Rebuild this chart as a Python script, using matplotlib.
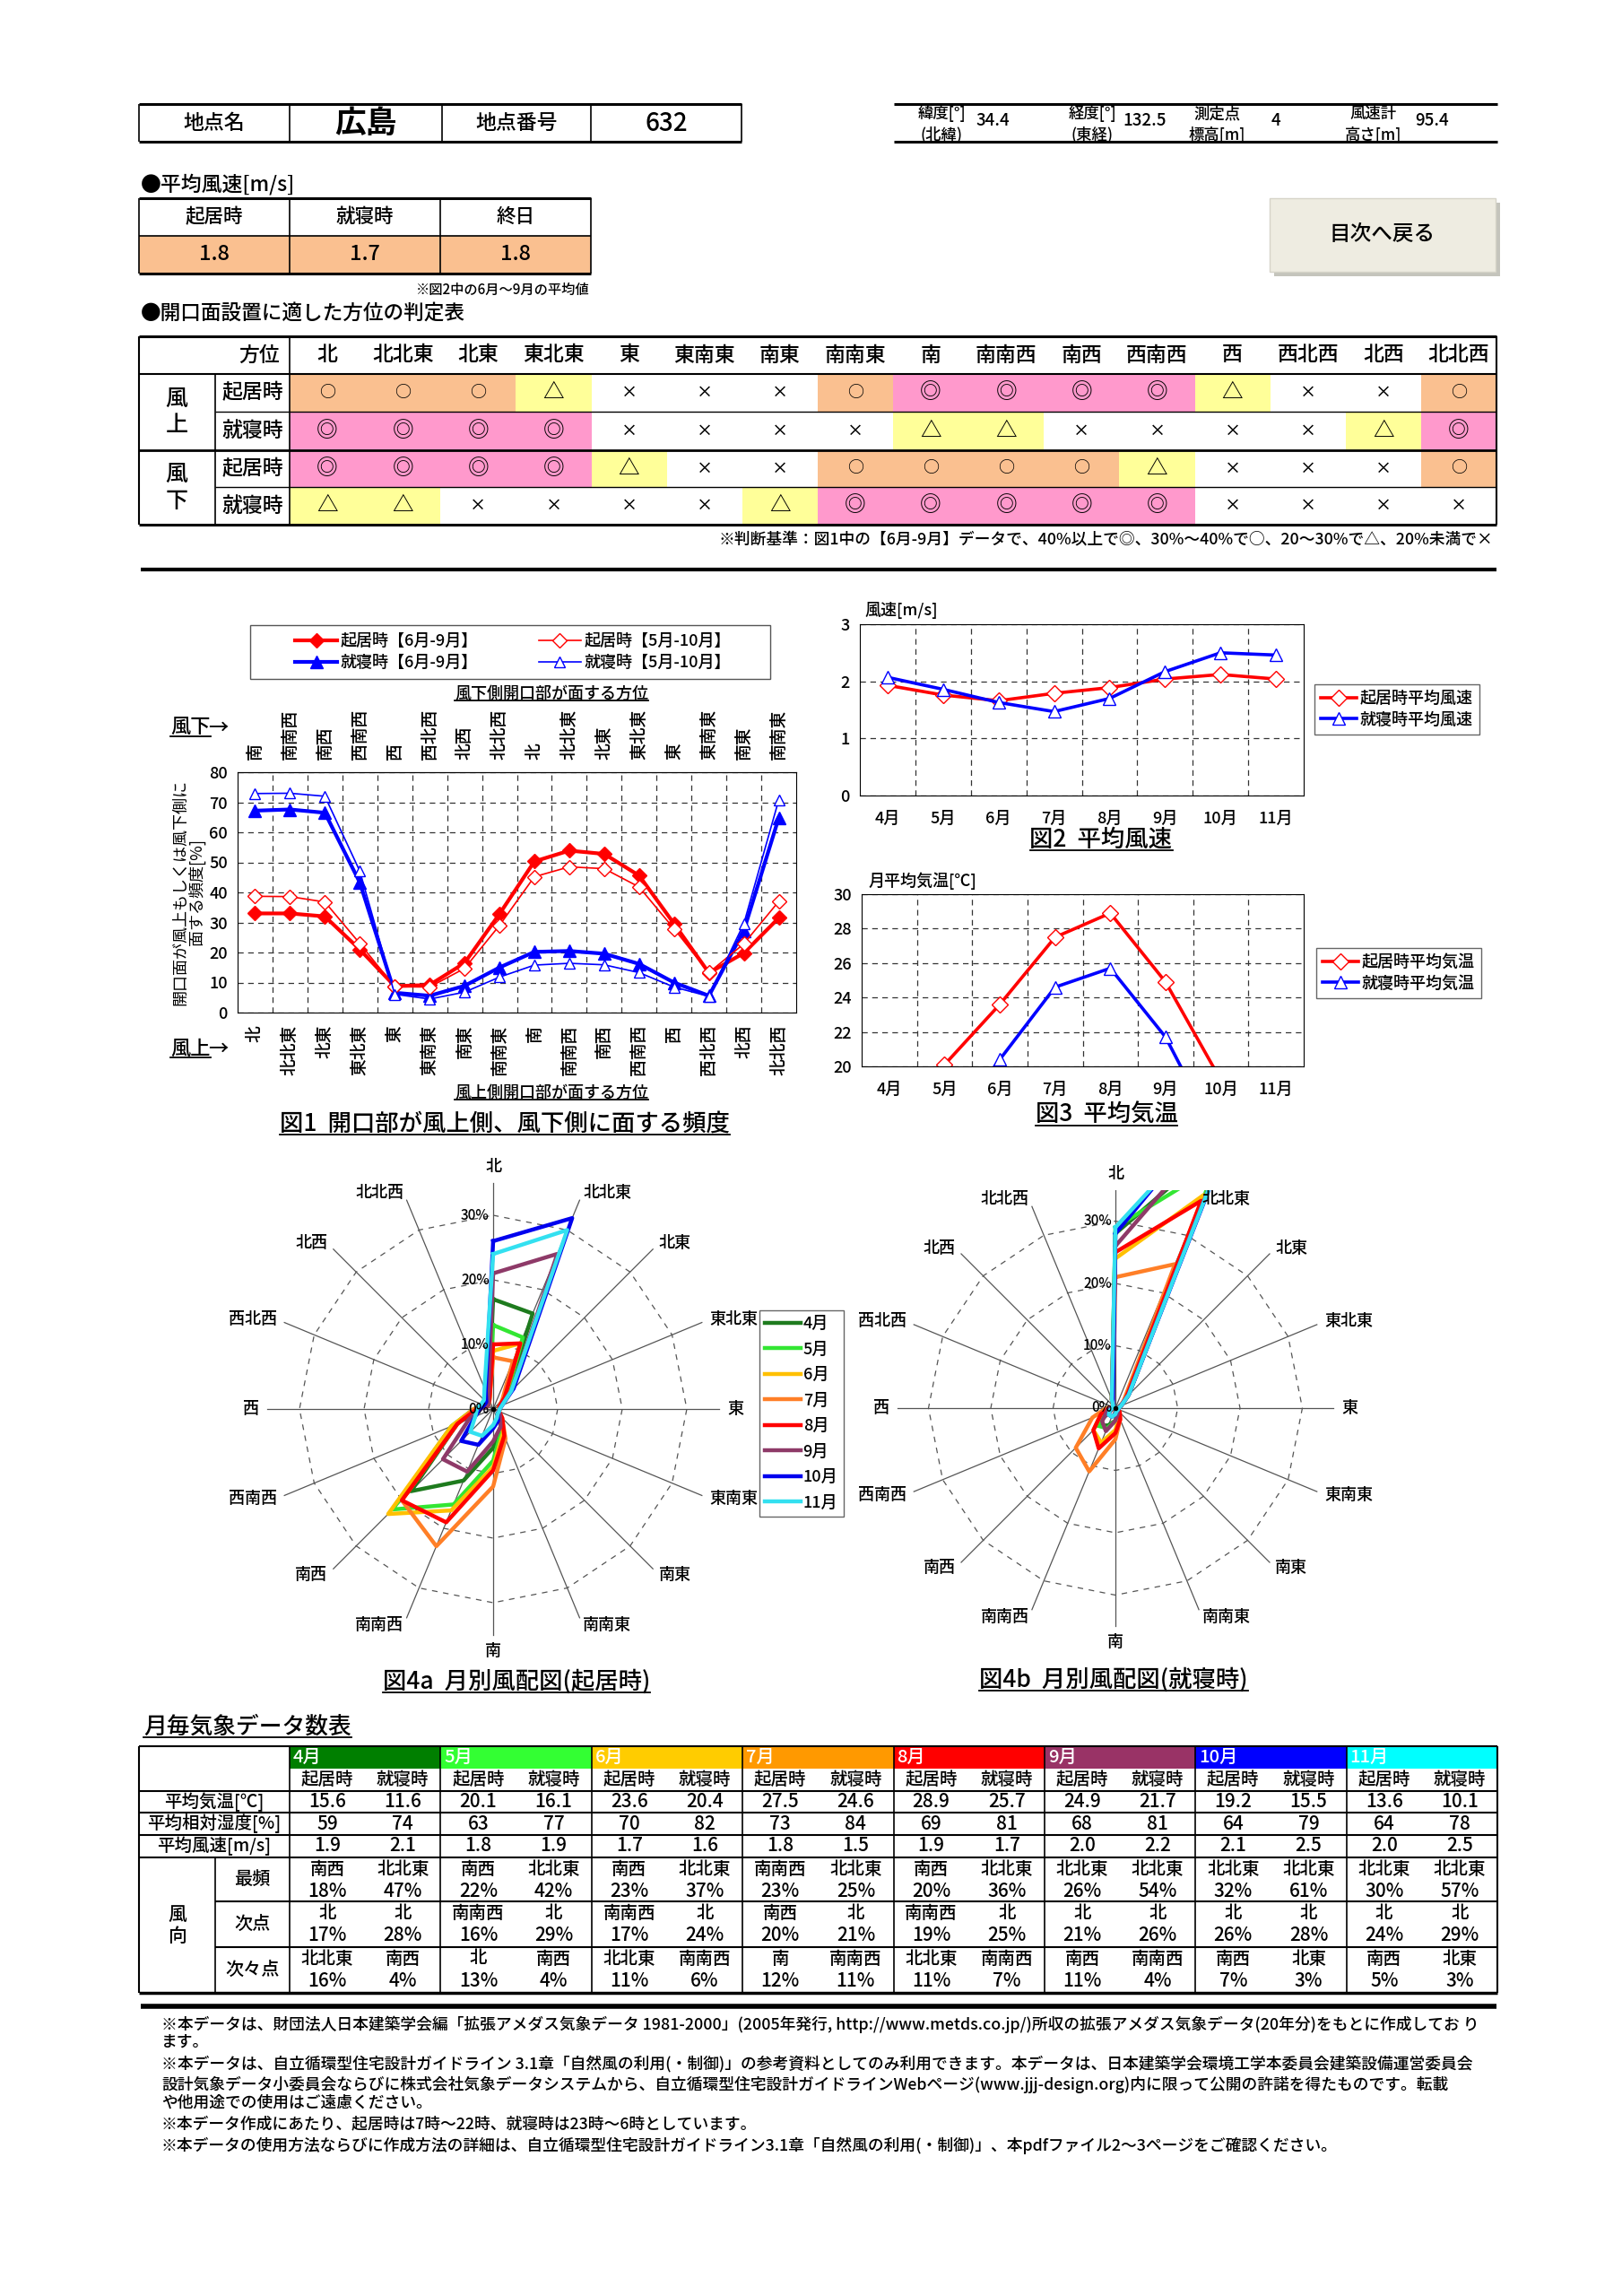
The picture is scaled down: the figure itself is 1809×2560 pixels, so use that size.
import numpy as np
import matplotlib
matplotlib.use("Agg")
import matplotlib.pyplot as plt
from matplotlib.patches import Rectangle
from matplotlib.lines import Line2D

W, H = 1809, 2560
plt.rcParams['font.family'] = ['Noto Sans CJK JP', 'DejaVu Sans']
plt.rcParams['font.weight'] = 'medium'

# ---------------- data ----------------
station_name = "広島"
station_no = "632"
info_top = ["緯度[°]", "経度[°]", "測定点", "風速計"]
info_bottom = ["(北緯)", "(東経)", "標高[m]", "高さ[m]"]
info_values = ["34.4", "132.5", "4", "95.4"]

mean_wind_labels = ["起居時", "就寝時", "終日"]
mean_wind_values = ["1.8", "1.7", "1.8"]

directions = ["北", "北北東", "北東", "東北東", "東", "東南東", "南東", "南南東",
              "南", "南南西", "南西", "西南西", "西", "西北西", "北西", "北北西"]
downwind_labels = directions[8:] + directions[:8]

judge_up_day = ["○", "○", "○", "△", "×", "×", "×", "○", "◎", "◎", "◎", "◎", "△", "×", "×", "○"]
judge_up_night = ["◎", "◎", "◎", "◎", "×", "×", "×", "×", "△", "△", "×", "×", "×", "×", "△", "◎"]
judge_down_day = ["◎", "◎", "◎", "◎", "△", "×", "×", "○", "○", "○", "○", "△", "×", "×", "×", "○"]
judge_down_night = ["△", "△", "×", "×", "×", "×", "△", "◎", "◎", "◎", "◎", "◎", "×", "×", "×", "×"]

# fig 1 : frequency [%] by upwind direction
day_jun_sep = [33.0, 33.0, 32.0, 21.0, 8.8, 9.2, 16.5, 32.8, 50.3, 53.9, 52.8, 45.6, 29.6, 13.2, 19.8, 31.5]
day_may_oct = [38.7, 38.6, 36.8, 23.0, 8.6, 8.5, 14.7, 29.0, 45.2, 48.5, 47.9, 41.8, 27.9, 13.3, 22.9, 37.0]
night_jun_sep = [67.2, 67.6, 66.5, 43.3, 6.6, 5.6, 8.9, 15.0, 20.2, 20.5, 19.6, 16.2, 10.0, 5.6, 27.3, 64.8]
night_may_oct = [72.9, 73.0, 72.0, 47.1, 6.1, 4.5, 6.8, 11.8, 15.8, 16.4, 15.9, 13.3, 8.5, 5.4, 29.6, 70.8]

# fig 2, 3 and monthly table
months = ["4月", "5月", "6月", "7月", "8月", "9月", "10月", "11月"]
wind_day = [1.93, 1.76, 1.66, 1.79, 1.89, 2.04, 2.12, 2.04]
wind_night = [2.07, 1.86, 1.63, 1.47, 1.70, 2.17, 2.50, 2.46]
temp_day = [15.6, 20.1, 23.6, 27.5, 28.9, 24.9, 19.2, 13.6]
temp_night = [11.6, 16.1, 20.4, 24.6, 25.7, 21.7, 15.5, 10.1]
hum_day = [59, 63, 70, 73, 69, 68, 64, 64]
hum_night = [74, 77, 82, 84, 81, 81, 79, 78]

# fig 4 : monthly wind roses [%], order of `directions`
rose_day = [
    [17, 16, 3, 1, 1, 1, 1.5, 3, 6, 12, 18, 6, 2.5, 1, 1, 2],
    [13, 12, 3, 1, 1, 1, 1.5, 3.5, 8, 16, 22, 7, 3, 1, 1, 1.5],
    [9, 11, 2.5, 1, 1, 1, 1.5, 4, 9, 17, 23, 7, 3, 1, 1, 1.5],
    [8, 8, 2, 1, 1, 1, 2, 5, 12, 23, 20, 6, 3, 1, 1, 1.5],
    [10, 11, 2.5, 1, 1, 1, 2, 4.5, 9.5, 19, 20, 6, 2.5, 1, 1, 1.5],
    [21, 26, 4, 1.5, 1, 1, 1.5, 3, 5, 10.5, 11, 4, 2, 1, 1, 2],
    [26, 32, 4.5, 1.5, 1, 1, 1, 2, 3, 6, 7, 3, 2, 1.5, 1.5, 3],
    [24, 30, 4, 1.5, 1, 1, 1, 1.5, 2.5, 4.5, 5, 3, 2.5, 2, 2, 3.5],
]
rose_night = [
    [28, 47, 3, 1, 0.5, 0.5, 0.5, 1, 2, 3, 4, 2, 1, 0.5, 0.5, 1.5],
    [29, 42, 3, 1, 0.5, 0.5, 0.5, 1, 2, 3.5, 4, 2, 1, 0.5, 0.5, 1.5],
    [24, 37, 2.5, 1, 0.5, 0.5, 1, 1.5, 3.5, 6, 5, 2.5, 1, 0.5, 0.5, 1.5],
    [21, 25, 2, 1, 0.5, 0.5, 1, 2, 5, 11, 9, 4, 1.5, 0.5, 0.5, 1],
    [25, 36, 2.5, 1, 0.5, 0.5, 1, 2, 4, 7, 5, 2.5, 1, 0.5, 0.5, 1.5],
    [26, 54, 3, 1, 0.5, 0.5, 0.5, 1, 2, 4, 3, 1.5, 1, 0.5, 0.5, 1.5],
    [28, 61, 3, 1, 0.5, 0.5, 0.5, 0.5, 1, 1.5, 1.5, 1, 0.5, 0.5, 0.5, 1],
    [29, 57, 3, 1, 0.5, 0.5, 0.5, 0.5, 1, 1.5, 1.5, 1, 0.5, 0.5, 0.5, 1.5],
]
month_colors = ["#007F00", "#33FF33", "#FFCC00", "#FF9900", "#FF0000", "#993366", "#0000FF", "#00FFFF"]
rose_colors = ["#1E7B1E", "#33E633", "#FFC000", "#FF7F27", "#FF0000", "#8E3A68", "#0000EE", "#33E0F0"]
judge_colors = {"◎": "#FF99CC", "○": "#FAC090", "△": "#FFFF99", "×": "white"}

footnotes = [
    "※本データは、財団法人日本建築学会編「拡張アメダス気象データ 1981-2000」(2005年発行, http://www.metds.co.jp/)所収の拡張アメダス気象データ(20年分)をもとに作成してお り",
    "ます。",
    "※本データは、自立循環型住宅設計ガイドライン 3.1章「自然風の利用(・制御)」の参考資料としてのみ利用できます。本データは、日本建築学会環境工学本委員会建築設備運営委員会",
    "設計気象データ小委員会ならびに株式会社気象データシステムから、自立循環型住宅設計ガイドラインWebページ(www.jjj-design.org)内に限って公開の許諾を得たものです。転載",
    "や他用途での使用はご遠慮ください。",
    "※本データ作成にあたり、起居時は7時～22時、就寝時は23時～6時としています。",
    "※本データの使用方法ならびに作成方法の詳細は、自立循環型住宅設計ガイドライン3.1章「自然風の利用(・制御)」、本pdfファイル2～3ページをご確認ください。",
]

# ---------------- helpers ----------------
fig = plt.figure(figsize=(W / 100, H / 100), dpi=100)
bg = fig.add_axes([0, 0, 1, 1])
bg.set_xlim(0, W)
bg.set_ylim(H, 0)
bg.axis('off')
underlined = []


def px_axes(x0, y0, x1, y1):
    return fig.add_axes([x0 / W, 1 - y1 / H, (x1 - x0) / W, (y1 - y0) / H])


def hline(x0, x1, y, lw=1.0):
    bg.plot([x0, x1], [y, y], color='black', lw=lw, solid_capstyle='butt', zorder=3)


def vline(x, y0, y1, lw=1.0):
    bg.plot([x, x], [y0, y1], color='black', lw=lw, solid_capstyle='butt', zorder=3)


def box(x0, y0, x1, y1, fc, ec='none', lw=0, z=1):
    bg.add_patch(Rectangle((x0, y0), x1 - x0, y1 - y0, facecolor=fc, edgecolor=ec, lw=lw, zorder=z))


def txt(x, y, s, size=12, ha='center', va='center', ul=False, **kw):
    t = bg.text(x, y, s, fontsize=size, ha=ha, va=va, zorder=4, **kw)
    if ul:
        underlined.append(t)
    return t


# ---------------- header ----------------
hx = [155, 323, 493, 659, 827]
for i, (s, sz, wt) in enumerate(zip(["地点名", station_name, "地点番号", station_no],
                                     [16.5, 25, 16.5, 20], ['medium', 'bold', 'medium', 'medium'])):
    txt((hx[i] + hx[i + 1]) / 2, 137, s, sz, weight=wt)
hline(155, 827, 116, 2.2)
hline(155, 827, 158, 2.2)
for x in hx:
    vline(x, 116, 158, 1.2)

hline(997, 1670, 116, 2.2)
hline(997, 1670, 158, 2.2)
for xl, xv, a, b, v in zip([1050, 1218, 1357, 1532], [1088, 1252, 1418, 1578], info_top, info_bottom, info_values):
    txt(xl, 127, a, 12.5)
    txt(xl, 150, b, 12.5)
    txt(xv, 134, v, 13.5, ha='left')

# mean wind table
txt(157, 206, "●平均風速[m/s]", 16.5, ha='left')
wx = [155, 323, 491, 659]
box(155, 263, 659, 305, "#FAC090")
hline(155, 659, 221, 2.2)
hline(155, 659, 263, 1.2)
hline(155, 659, 305, 2.2)
for x in wx:
    vline(x, 221, 305, 1.2)
for i in range(3):
    txt((wx[i] + wx[i + 1]) / 2, 242, mean_wind_labels[i], 15.5)
    txt((wx[i] + wx[i + 1]) / 2, 284, mean_wind_values[i], 17)
txt(657, 323, "※図2中の6月～9月の平均値", 11, ha='right')

# button
box(1421, 226, 1673, 308, "#C4C4BC", z=1)
box(1416, 221, 1668, 303, "#EEECE1", ec="#D6D4C8", lw=1, z=2)
txt(1542, 262, "目次へ戻る", 17)

# judgement table
txt(157, 350, "●開口面設置に適した方位の判定表", 16.3, ha='left')
jx0, jx1, jx2, jx3 = 155, 240, 323, 1669
cw = (jx3 - jx2) / 16
jy = [375, 417, 459, 502, 543, 585]
rows = [judge_up_day, judge_up_night, judge_down_day, judge_down_night]
sym_size = {"◎": 17, "○": 13, "△": 17, "×": 13}
for r, marks in enumerate(rows):
    for c, m in enumerate(marks):
        x0 = jx2 + c * cw
        box(x0, jy[r + 1], x0 + cw, jy[r + 2], judge_colors[m])
        txt(x0 + cw / 2, (jy[r + 1] + jy[r + 2]) / 2, m, sym_size[m])
    txt((jx1 + jx2) / 2, (jy[r + 1] + jy[r + 2]) / 2, ["起居時", "就寝時"][r % 2], 16.5)
for c, d in enumerate(directions):
    txt(jx2 + c * cw + cw / 2, 396, d, 16.5)
txt(312, 396, "方位", 16.5, ha='right')
for g, (a, b) in enumerate([("風", "上"), ("風", "下")]):
    yc = (jy[1 + 2 * g] + jy[3 + 2 * g]) / 2
    txt(197, yc - 15, a, 18)
    txt(197, yc + 15, b, 18)
hline(jx0, jx3, jy[0], 2.2)
hline(jx0, jx3, jy[1], 1.5)
hline(jx1, jx3, jy[2], 1.0)
hline(jx0, jx3, jy[3], 2.0)
hline(jx1, jx3, jy[4], 1.0)
hline(jx0, jx3, jy[5], 2.2)
vline(jx0, jy[0], jy[5], 1.5)
vline(jx3, jy[0], jy[5], 1.5)
vline(jx2, jy[0], jy[5], 1.2)
vline(jx1, jy[1], jy[5], 1.2)
txt(1665, 601, "※判断基準：図1中の【6月-9月】データで、40%以上で◎、30%～40%で○、20～30%で△、20%未満で×", 12.8, ha='right')
hline(157, 1669, 635, 3.0)

# ---------------- fig 1 ----------------
ax1 = px_axes(265, 861, 888, 1129)
x = np.arange(16)
h1, = ax1.plot(x, day_jun_sep, color='#FF0000', lw=3, marker='D', ms=8.5, label="起居時【6月-9月】")
h2, = ax1.plot(x, night_jun_sep, color='#0000FF', lw=3, marker='^', ms=9.5, label="就寝時【6月-9月】")
h3, = ax1.plot(x, day_may_oct, color='#FF0000', lw=1.2, marker='D', ms=8, mfc='white', label="起居時【5月-10月】")
h4, = ax1.plot(x, night_may_oct, color='#0000FF', lw=1.2, marker='^', ms=9, mfc='white', label="就寝時【5月-10月】")
ax1.set_xlim(-0.5, 15.5)
ax1.set_ylim(0, 80)
ax1.set_yticks(np.arange(0, 81, 10))
ax1.set_xticks(x, labels=directions, rotation=90)
ax1.set_xticks(np.arange(0.5, 15, 1), minor=True)
ax1.tick_params(axis='both', which='both', length=0, labelsize=13.5)
ax1.tick_params(axis='x', pad=10)
ax1.tick_params(axis='y', pad=8, labelsize=13)
ax1.grid(axis='y', which='major', ls=(0, (5, 4)), color='#333', lw=0.9)
ax1.grid(axis='x', which='minor', ls=(0, (5, 4)), color='#333', lw=0.9)
ax1.set_ylabel("開口面が風上もしくは風下側に\n面する頻度[%]", fontsize=13, linespacing=1.0, labelpad=3)
sec = ax1.secondary_xaxis('top')
sec.set_xticks(x, labels=downwind_labels, rotation=90)
sec.tick_params(length=0, pad=10, labelsize=13.5)
ax1.legend([h1, h2, h3, h4], [h.get_label() for h in (h1, h2, h3, h4)], ncol=2, mode='expand',
           loc='center', bbox_to_anchor=(322 / W, 1 - 757 / H, 500 / W, 60 / H), bbox_transform=fig.transFigure,
           frameon=False, fontsize=13, handlelength=2.6, handletextpad=0.2, borderaxespad=0, labelspacing=0.35)
box(279, 697, 859, 757, "white", ec="#555", lw=1.0)
txt(615, 774, "風下側開口部が面する方位", 13, ul=True)
txt(190, 811, "風下", 16, ha='left', ul=True)
txt(232, 811, "→", 16, ha='left')
txt(190, 1169, "風上", 16, ha='left', ul=True)
txt(232, 1169, "→", 16, ha='left')
txt(615, 1219, "風上側開口部が面する方位", 13, ul=True)
txt(563, 1253, "図1  開口部が風上側、風下側に面する頻度", 19, ul=True)

# ---------------- fig 2 / fig 3 ----------------
mx = np.arange(8)


def month_axes(rect, yday, ynight, ylim, yticks, unit, unit_xy, leg_labels, leg_xy, title, title_xy):
    ax = px_axes(*rect)
    ax.plot(mx, yday, color='#FF0000', lw=2.6, marker='D', ms=9, mfc='white', label=leg_labels[0])
    ax.plot(mx, ynight, color='#0000FF', lw=2.6, marker='^', ms=10, mfc='white', label=leg_labels[1])
    ax.set_xlim(-0.5, 7.5)
    ax.set_ylim(*ylim)
    ax.set_yticks(yticks)
    ax.set_xticks(mx, labels=months)
    ax.set_xticks(np.arange(0.5, 7, 1), minor=True)
    ax.tick_params(axis='both', which='both', length=0, labelsize=13)
    ax.tick_params(axis='x', pad=12)
    ax.tick_params(axis='y', pad=8)
    ax.grid(axis='y', ls=(0, (5, 4)), color='#333', lw=0.9)
    ax.grid(axis='x', which='minor', ls=(0, (5, 4)), color='#333', lw=0.9)
    ax.legend(loc='upper left', bbox_to_anchor=(leg_xy[0] / W, 1 - leg_xy[1] / H), bbox_transform=fig.transFigure,
              fontsize=13, fancybox=False, edgecolor='#666', framealpha=1, handlelength=2.2, handletextpad=0.2,
              borderpad=0.4, labelspacing=0.3, borderaxespad=0)
    txt(unit_xy[0], unit_xy[1], unit, 13, ha='left')
    txt(title_xy[0], title_xy[1], title, 19, ul=True)
    return ax


month_axes((959, 696, 1454, 887), wind_day, wind_night, (0, 3), [0, 1, 2, 3], "風速[m/s]", (964, 680),
           ["起居時平均風速", "就寝時平均風速"], (1466, 763), "図2  平均風速", (1228, 936))
month_axes((961, 997, 1454, 1189), temp_day, temp_night, (20, 30), np.arange(20, 31, 2), "月平均気温[℃]", (968, 982),
           ["起居時平均気温", "就寝時平均気温"], (1468, 1057), "図3  平均気温", (1234, 1243))

# ---------------- fig 4 : wind roses ----------------
theta = np.deg2rad(np.arange(16) * 22.5)
tc = np.append(theta, theta[0])


def rose(cx, cy, k, top, data, legend, title, title_xy):
    ax = px_axes(cx - 36 * k, cy - top * k, cx + 36 * k, cy + 36 * k)
    ax.set_xlim(-36, 36)
    ax.set_ylim(-36, top)
    ax.axis('off')
    for r in (10, 20, 30):
        ax.plot(r * np.sin(tc), r * np.cos(tc), ls=(0, (5, 5)), color='#555', lw=0.9)
    for t in theta:
        ax.plot([0, 35 * np.sin(t)], [0, 35 * np.cos(t)], color='#555', lw=0.9)
    for vals, c, m in zip(data, rose_colors, months):
        v = np.append(vals, vals[0])
        ax.plot(v * np.sin(tc), v * np.cos(tc), color=c, lw=3.2, label=m)
    ax.plot([0], [0], 'o', color='black', ms=3)
    for r in (0, 10, 20, 30):
        ax.text(-0.6, r, f"{r}%", ha='right', va='center', fontsize=11)
    for t, d in zip(theta, directions):
        s, c = np.sin(t), np.cos(t)
        ha = 'left' if s > 0.01 else ('right' if s < -0.01 else 'center')
        va = 'bottom' if c > 0.99 else ('top' if c < -0.99 else 'center')
        ax.text(36.3 * s, 36.3 * c, d, ha=ha, va=va, fontsize=13)
    if legend:
        ax.legend(loc='upper left', bbox_to_anchor=(847 / W, 1 - 1461 / H), bbox_transform=fig.transFigure,
                  fontsize=13, fancybox=False, edgecolor='#666', framealpha=1, handlelength=2.2,
                  handletextpad=0.15, borderpad=0.35, labelspacing=0.58, borderaxespad=0)
    txt(title_xy[0], title_xy[1], title, 19, ul=True)


rose(550, 1571, 7.2, 36, rose_day, True, "図4a  月別風配図(起居時)", (576, 1875))
rose(1244, 1570, 6.95, 35, rose_night, False, "図4b  月別風配図(就寝時)", (1242, 1873))

# ---------------- monthly table ----------------
txt(160, 1925, "月毎気象データ数表", 18.5, ha='left', ul=True)
tx0, tx1, tx2, tx3 = 155, 240, 323, 1670
mw = (tx3 - tx2) / 8
ty = [1947, 1972, 1997, 2021, 2046, 2071, 2120, 2171, 2222]
rank_names = ["最頻", "次点", "次々点"]
for i, m in enumerate(months):
    x0 = tx2 + i * mw
    box(x0, ty[0], x0 + mw, ty[1], month_colors[i])
    txt(x0 + 4, (ty[0] + ty[1]) / 2, m, 14.5, ha='left', color='white')
    txt(x0 + mw / 4, (ty[1] + ty[2]) / 2, "起居時", 14)
    txt(x0 + 3 * mw / 4, (ty[1] + ty[2]) / 2, "就寝時", 14)
    cols = [(temp_day, hum_day, wind_day, rose_day), (temp_night, hum_night, wind_night, rose_night)]
    for j, (tt, hh, ww, rr) in enumerate(cols):
        xc = x0 + mw / 4 + j * mw / 2
        txt(xc, (ty[2] + ty[3]) / 2, f"{tt[i]:.1f}", 15)
        txt(xc, (ty[3] + ty[4]) / 2, f"{hh[i]}", 15)
        txt(xc, (ty[4] + ty[5]) / 2, f"{ww[i]:.1f}", 15)
        order = np.argsort(rr[i])[::-1][:3]
        for k, o in enumerate(order):
            txt(xc, ty[5 + k] + 13, directions[o], 14)
            txt(xc, ty[5 + k] + 38, f"{rr[i][o]:.0f}%", 15)
for lab, k in zip(["平均気温[℃]", "平均相対湿度[%]", "平均風速[m/s]"], range(3)):
    txt((tx0 + tx2) / 2, (ty[2 + k] + ty[3 + k]) / 2, lab, 14)
for k, n in enumerate(rank_names):
    txt((tx1 + tx2) / 2, (ty[5 + k] + ty[6 + k]) / 2, n, 14.5)
txt((tx0 + tx1) / 2, (ty[5] + ty[8]) / 2 - 12, "風", 15)
txt((tx0 + tx1) / 2, (ty[5] + ty[8]) / 2 + 12, "向", 15)
for y in [ty[0]] + ty[2:6]:
    hline(tx0, tx3, y, 1.5)
hline(tx1, tx3, ty[6], 1.5)
hline(tx1, tx3, ty[7], 1.5)
hline(tx0, tx3, ty[8], 2.5)
vline(tx0, ty[0], ty[8], 1.5)
vline(tx3, ty[0], ty[8], 1.5)
vline(tx1, ty[5], ty[8], 1.2)
for i in range(8):
    vline(tx2 + i * mw, ty[0], ty[8], 1.2)

hline(157, 1669, 2237, 4.0)
for s, y in zip(footnotes, [2257, 2277, 2301, 2324, 2345, 2368, 2392]):
    txt(180, y, s, 12.8, ha='left')

# underlines
fig.canvas.draw()
rend = fig.canvas.get_renderer()
for t in underlined:
    bb = t.get_window_extent(rend)
    fig.add_artist(Line2D([bb.x0 / W, bb.x1 / W], [(bb.y0 + 2) / H] * 2, color='black', lw=1.3))

fig.savefig("out.png", dpi=100)
